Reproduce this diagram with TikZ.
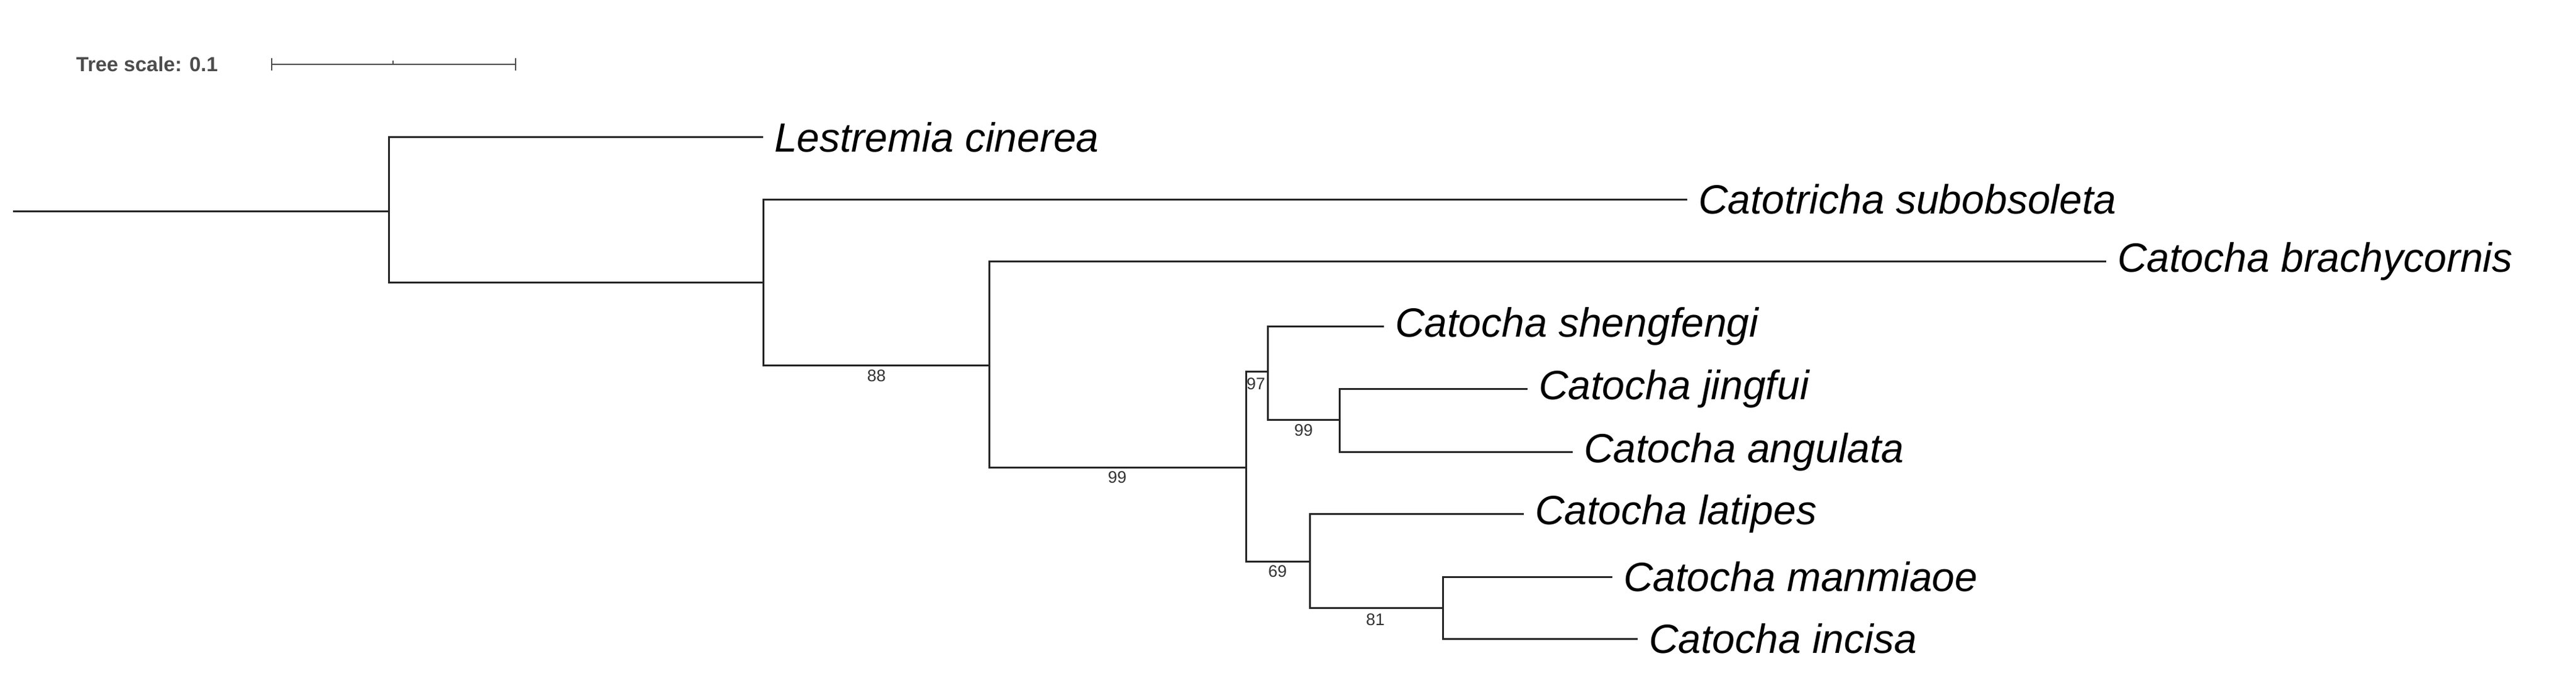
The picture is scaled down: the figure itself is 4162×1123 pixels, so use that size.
\documentclass[tikz,border=0pt]{standalone}
\usepackage{fontspec}
\setmainfont{Liberation Sans}
\begin{document}
\begin{tikzpicture}[x=1pt,y=-1pt,
  br/.style={draw=black!85,line width=3pt},
  tip/.style={inner sep=0pt,minimum size=0pt},
  lab/.style={anchor=west,inner sep=0pt,xshift=18pt,font=\fontsize{66}{70}\selectfont\itshape},
  bs/.style={inner sep=0pt,font=\fontsize{27}{30}\selectfont,text=black!80}]
\useasboundingbox (0,0) rectangle (4162,1123);
% scale bar
\node[anchor=west,inner sep=0pt,text=black!70,font=\fontsize{33}{36}\selectfont\bfseries] (ts) at (123,104) {Tree scale: 0.1};
\coordinate (sa) at (439,104); \coordinate (sb) at (833,104); \coordinate (sm) at (635,104);
\draw[black!70,line width=2pt] (sa) -- (sb);
\draw[black!70,line width=2pt] ([yshift=-10pt]sa) -- ([yshift=10pt]sa);
\draw[black!70,line width=2pt] ([yshift=-10pt]sb) -- ([yshift=10pt]sb);
\draw[black!70,line width=2pt] (sm) -- ([yshift=6pt]sm);
% internal nodes
\coordinate (root) at (21,341);
\coordinate (n1) at (628,341);
\coordinate (n2) at (1233,456);
\coordinate (n3) at (1598,590);
\coordinate (n4) at (2013,755);
\coordinate (n5) at (2048,600);
\coordinate (n6) at (2164,678);
\coordinate (n7) at (2116,907);
\coordinate (n8) at (2331,982);
% tips
\node[tip] (t1) at (1233,222) {}; \node[lab] at (t1) {Lestremia cinerea};
\node[tip] (t2) at (2726,322) {}; \node[lab] at (t2) {Catotricha subobsoleta};
\node[tip] (t3) at (3403,422) {}; \node[lab] at (t3) {Catocha brachycornis};
\node[tip] (t4) at (2236,527) {}; \node[lab] at (t4) {Catocha shengfengi};
\node[tip] (t5) at (2468,628) {}; \node[lab] at (t5) {Catocha jingfui};
\node[tip] (t6) at (2541,730) {}; \node[lab] at (t6) {Catocha angulata};
\node[tip] (t7) at (2462,830) {}; \node[lab] at (t7) {Catocha latipes};
\node[tip] (t8) at (2605,932) {}; \node[lab] at (t8) {Catocha manmiaoe};
\node[tip] (t9) at (2646,1032) {}; \node[lab] at (t9) {Catocha incisa};
% branches
\draw[br] (root) -- (n1);
\draw[br] (n1) |- (t1);
\draw[br] (n1) |- (n2);
\draw[br] (n2) |- (t2);
\draw[br] (n2) |- (n3);
\draw[br] (n3) |- (t3);
\draw[br] (n3) |- (n4);
\draw[br] (n4) |- (n5);
\draw[br] (n4) |- (n7);
\draw[br] (n5) |- (t4);
\draw[br] (n5) |- (n6);
\draw[br] (n6) |- (t5);
\draw[br] (n6) |- (t6);
\draw[br] (n7) |- (t7);
\draw[br] (n7) |- (n8);
\draw[br] (n8) |- (t8);
\draw[br] (n8) |- (t9);
% bootstrap values
\node[bs] (b1) at (1416,607) {88};
\node[bs] (b2) at (1805,771) {99};
\node[bs] (b3) at (2029,620) {97};
\node[bs] (b4) at (2106,695) {99};
\node[bs] (b5) at (2064,923) {69};
\node[bs] (b6) at (2222,1001) {81};
\end{tikzpicture}
\end{document}
